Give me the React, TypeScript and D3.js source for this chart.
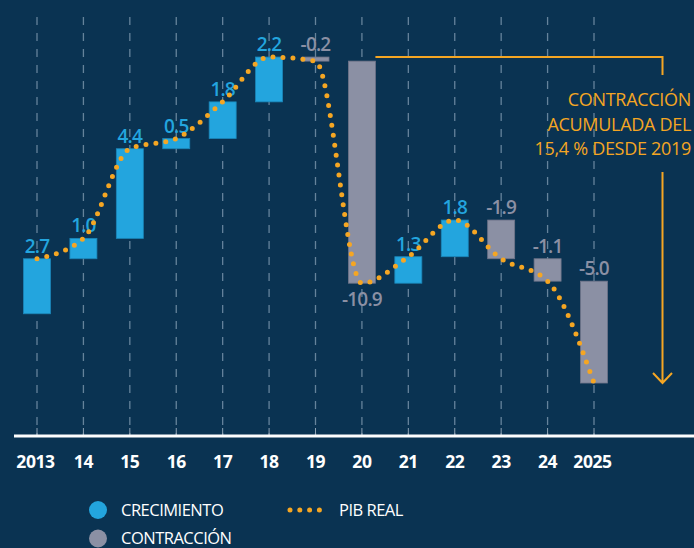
import React from 'react';
import * as d3 from 'd3';

const YEARS = ['2013', '14', '15', '16', '17', '18', '19', '20', '21', '22', '23', '24', '2025'];
const GROWTH = [2.7, 1.0, 4.4, 0.5, 1.8, 2.2, -0.2, -10.9, 1.3, 1.8, -1.9, -1.1, -5.0];
const NOTE_LINES = ['CONTRACCIÓN', 'ACUMULADA DEL', '15,4 % DESDE 2019'];
const LEGEND = [
  { label: 'CRECIMIENTO', kind: 'up' },
  { label: 'CONTRACCIÓN', kind: 'down' },
];
const LINE_LABEL = 'PIB REAL';
const LABEL_BELOW_YEAR = '20';

const BG = '#0a3352';
const BLUE = '#23a5de';
const GRAY = '#8b90a4';
const ORANGE = '#f5a623';
const GRID = '#65839b';
const FONT = "'Open Sans', sans-serif";

const W = 694;
const H = 548;
const AXIS_Y = 436;

export default function App() {
  const x = d3.scalePoint<string>().domain(YEARS).range([37, 594]);
  const y = d3.scaleLinear().domain([-6, 15.4]).range([AXIS_Y, 0]);
  const barW = 27;

  // waterfall levels
  let acc = 0;
  const steps = GROWTH.map((v, i) => {
    const start = acc;
    acc = Math.round((acc + v) * 10) / 10;
    return { year: YEARS[i], value: v, start, end: acc };
  });

  const line = d3
    .line<{ year: string; end: number }>()
    .x(d => x(d.year) as number)
    .y(d => y(d.end))
    .curve(d3.curveMonotoneX);

  const peak = d3.max(steps, d => Math.max(d.start, d.end)) as number;
  const last = steps[steps.length - 1].end;
  const drop = steps.find(d => d.year === LABEL_BELOW_YEAR)!;
  const noteX = 662.5;

  return (
    <svg width={W} height={H} style={{ position: 'fixed', left: 0, top: 0, background: BG }}>
      <rect width={W} height={H} fill={BG} />

      {/* dashed gridlines */}
      {YEARS.map(yr => (
        <line
          key={'g' + yr}
          x1={x(yr)}
          x2={x(yr)}
          y1={17}
          y2={AXIS_Y}
          stroke={GRID}
          strokeWidth={1.3}
          strokeDasharray="8 8"
        />
      ))}

      {/* bars */}
      {steps.map(d => {
        const top = y(Math.max(d.start, d.end));
        const bot = y(Math.min(d.start, d.end));
        return (
          <rect
            key={'b' + d.year}
            x={(x(d.year) as number) - barW / 2}
            y={top}
            width={barW}
            height={Math.max(bot - top, 3)}
            fill={d.value >= 0 ? BLUE : GRAY}
            stroke={d.value >= 0 ? '#1b86b8' : '#6f7489'}
            strokeWidth={0.8}
          />
        );
      })}

      {/* value labels */}
      {steps.map(d => {
        const below = d.year === LABEL_BELOW_YEAR;
        const ty = below ? y(d.end) + 23 : y(Math.max(d.start, d.end)) - 6;
        return (
          <text
            key={'v' + d.year}
            x={x(d.year)}
            y={ty}
            textAnchor="middle"
            fontFamily={FONT}
            fontWeight={600}
            fontSize={19}
            letterSpacing={-0.8}
            fill={d.value >= 0 ? BLUE : GRAY}
          >
            {d.value.toFixed(1)}
          </text>
        );
      })}

      {/* PIB real dotted line */}
      <path
        d={line(steps) as string}
        fill="none"
        stroke={ORANGE}
        strokeWidth={5}
        strokeLinecap="round"
        strokeDasharray="0 10"
      />

      {/* accumulated contraction bracket */}
      <path
        d={`M${(x(drop.year) as number) + barW / 2},${y(peak)}H${noteX}V${y(peak) + 18}`}
        fill="none"
        stroke={ORANGE}
        strokeWidth={2}
      />
      {NOTE_LINES.map((t, i) => (
        <text
          key={'n' + i}
          x={691}
          y={106 + i * 24.5}
          textAnchor="end"
          fontFamily={FONT}
          fontSize={18}
          letterSpacing={-0.3}
          fill={ORANGE}
        >
          {t}
        </text>
      ))}
      <path
        d={`M${noteX},172V${y(last)}M${noteX - 9.5},${y(last) - 10}L${noteX},${y(last)}L${noteX + 9.5},${y(last) - 10}`}
        fill="none"
        stroke={ORANGE}
        strokeWidth={2}
      />

      {/* x axis */}
      {YEARS.map(yr => (
        <line key={'t' + yr} x1={x(yr)} x2={x(yr)} y1={428} y2={AXIS_Y} stroke="#8fa3b5" strokeWidth={1} />
      ))}
      <line x1={14} x2={W} y1={AXIS_Y} y2={AXIS_Y} stroke="#ffffff" strokeWidth={2.8} />
      {YEARS.map(yr => (
        <text
          key={'l' + yr}
          x={(x(yr) as number) - (yr.length > 2 ? 1.5 : 0)}
          y={468}
          textAnchor="middle"
          fontFamily={FONT}
          fontWeight={700}
          fontSize={17.5}
          letterSpacing={-0.4}
          fill="#ffffff"
        >
          {yr}
        </text>
      ))}

      {/* legend */}
      {LEGEND.map((d, i) => (
        <g key={'lg' + i} transform={`translate(98,${510 + i * 28.5})`}>
          <circle r={9} fill={d.kind === 'up' ? BLUE : GRAY} />
          <text x={23} y={5.5} fontFamily={FONT} fontSize={16.5} letterSpacing={-0.5} fill="#ffffff">
            {d.label}
          </text>
        </g>
      ))}
      <g transform="translate(290,510)">
        <line x1={0} x2={30} y1={0} y2={0} stroke={ORANGE} strokeWidth={5} strokeLinecap="round" strokeDasharray="0 9.8" />
        <text x={49} y={5.5} fontFamily={FONT} fontSize={16.5} letterSpacing={-0.5} fill="#ffffff">
          {LINE_LABEL}
        </text>
      </g>
    </svg>
  );
}
